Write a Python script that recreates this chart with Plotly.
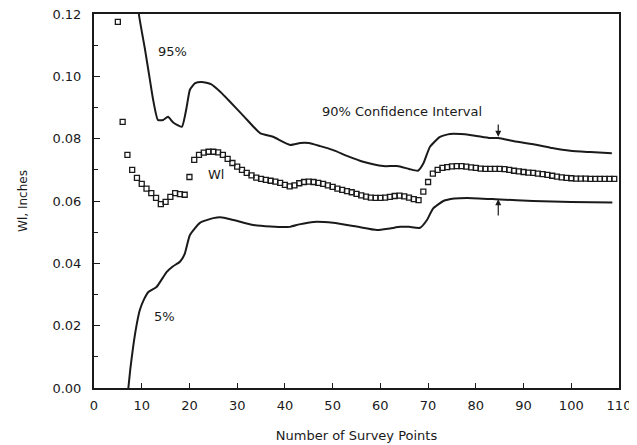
import plotly.graph_objects as go

# WI estimate at each survey point
wi_x = list(range(5, 110))
wi_y = [0.1175, 0.0854, 0.0748, 0.0700, 0.0674, 0.0655, 0.0640, 0.0625, 0.0610, 0.0590,
        0.0597, 0.0613, 0.0625, 0.0622, 0.0620, 0.0677, 0.0732, 0.0748, 0.0755, 0.0758,
        0.0758, 0.0756, 0.0748, 0.0735, 0.0722, 0.0710, 0.0700, 0.0690, 0.0682, 0.0675,
        0.0671, 0.0668, 0.0665, 0.0662, 0.0658, 0.0652, 0.0647, 0.0650, 0.0657, 0.0661,
        0.0662, 0.0661, 0.0658, 0.0655, 0.0650, 0.0645, 0.0640, 0.0636, 0.0632, 0.0628,
        0.0623, 0.0618, 0.0614, 0.0611, 0.0610, 0.0610, 0.0611, 0.0613, 0.0616, 0.0617,
        0.0615, 0.0611, 0.0606, 0.0603, 0.0630, 0.0661, 0.0688, 0.0700, 0.0706, 0.0709,
        0.0711, 0.0712, 0.0712, 0.0710, 0.0708, 0.0706, 0.0704, 0.0703, 0.0703, 0.0703,
        0.0703, 0.0702, 0.0700, 0.0697, 0.0695, 0.0693, 0.0691, 0.0690, 0.0688, 0.0686,
        0.0684, 0.0681, 0.0678, 0.0676, 0.0674, 0.0673, 0.0672, 0.0672, 0.0672, 0.0671,
        0.0671, 0.0671, 0.0671, 0.0671, 0.0671]

# 95% bound
up_x = [9.0, 9.4, 10.7, 11.7, 12.4, 13.4, 14.5, 15.5, 16.6, 18.4, 19.4, 20.1, 21.2, 22.6,
        24.5, 26.5, 28.1, 31.5, 34.8, 37.5, 41.1, 43.2, 45.0, 47.4, 50.0, 53.0, 56.4, 60.6,
        63.5, 66.0, 67.9, 69.0, 70.4, 72.5, 74.6, 78.8, 83.0, 84.7, 88.0, 92.9, 96.0, 99.8,
        104.0, 108.5]
up_y = [0.1300, 0.1200, 0.1085, 0.0990, 0.0924, 0.0860, 0.0860, 0.0870, 0.0852, 0.0838,
        0.0900, 0.0957, 0.0978, 0.0982, 0.0975, 0.0950, 0.0925, 0.0870, 0.0818, 0.0806,
        0.0780, 0.0786, 0.0786, 0.0776, 0.0764, 0.0745, 0.0726, 0.0712, 0.0712, 0.0703,
        0.0697, 0.0720, 0.0774, 0.0806, 0.0815, 0.0812, 0.0802, 0.0802, 0.0792, 0.0780,
        0.0770, 0.0761, 0.0757, 0.0753]

# 5% bound
lo_x = [7.2, 7.6, 8.2, 8.9, 9.6, 10.5, 11.4, 13.1, 15.2, 16.5, 18.0, 19.0, 20.1, 22.2,
        25.0, 26.5, 29.0, 33.4, 37.0, 41.0, 43.0, 46.0, 50.1, 55.0, 59.3, 62.0, 64.2, 66.0,
        68.3, 69.8, 71.0, 73.2, 75.5, 78.2, 85.1, 92.0, 100.0, 108.6]
lo_y = [0.0000, 0.0060, 0.0132, 0.0200, 0.0250, 0.0285, 0.0308, 0.0324, 0.0372, 0.0390,
        0.0405, 0.0430, 0.0491, 0.0530, 0.0545, 0.0548, 0.0540, 0.0523, 0.0518, 0.0517,
        0.0525, 0.0533, 0.0530, 0.0518, 0.0507, 0.0512, 0.0517, 0.0517, 0.0514, 0.0540,
        0.0575, 0.0600, 0.0608, 0.0610, 0.0605, 0.0600, 0.0597, 0.0595]

x_ticks = [0, 10, 20, 30, 40, 50, 60, 70, 80, 90, 100, 110]
y_ticks = [0.00, 0.02, 0.04, 0.06, 0.08, 0.10, 0.12]

INK = "#1a1a1a"
FONT = "DejaVu Sans"

fig = go.Figure()
fig.add_trace(go.Scatter(x=up_x, y=up_y, mode="lines",
                         line=dict(color=INK, width=2, shape="spline", smoothing=0.5),
                         showlegend=False))
fig.add_trace(go.Scatter(x=lo_x, y=lo_y, mode="lines",
                         line=dict(color=INK, width=2, shape="spline", smoothing=0.5),
                         showlegend=False))
fig.add_trace(go.Scatter(x=wi_x, y=wi_y, mode="markers",
                         marker=dict(symbol="square-open", size=5, color=INK,
                                     line=dict(width=1.3, color=INK)),
                         showlegend=False))

txt = dict(family=FONT, size=13, color=INK)
fig.add_annotation(x=16.5, y=0.108, text="95%", showarrow=False, font=txt)
fig.add_annotation(x=64.5, y=0.0886, text="90% Confidence Interval", showarrow=False, font=txt)
fig.add_annotation(x=25.5, y=0.0684, text="Wl", showarrow=False, font=txt)
fig.add_annotation(x=14.8, y=0.0228, text="5%", showarrow=False, font=txt)
# arrows marking the interval
fig.add_annotation(x=84.7, y=0.0806, ax=84.7, ay=0.0850, axref="x", ayref="y",
                   text="", showarrow=True, arrowhead=2, arrowsize=1, arrowwidth=1.2,
                   arrowcolor=INK)
fig.add_annotation(x=84.7, y=0.0606, ax=84.7, ay=0.0549, axref="x", ayref="y",
                   text="", showarrow=True, arrowhead=2, arrowsize=1, arrowwidth=1.2,
                   arrowcolor=INK)

fig.update_xaxes(range=[0, 110], tickvals=x_ticks, ticks="inside", ticklen=5,
                 tickwidth=1.2, tickcolor=INK, showline=True, linewidth=2,
                 linecolor=INK, mirror=True, showgrid=False, zeroline=False,
                 automargin=False, ticklabeloverflow="allow",
                 tickfont=dict(family=FONT, size=13, color=INK),
                 ticklabelstandoff=4,
                 title=dict(text="Number of Survey Points",
                            font=dict(family=FONT, size=13, color=INK), standoff=19))
fig.update_yaxes(range=[0, 0.12], tickvals=y_ticks, tickformat=".2f", ticks="inside",
                 ticklen=6, tickwidth=1.2, tickcolor=INK, showline=True, linewidth=2,
                 linecolor=INK, mirror=True, showgrid=False, zeroline=False,
                 automargin=False, ticklabeloverflow="allow",
                 minor=dict(tickvals=[0.01, 0.03, 0.05, 0.07, 0.09, 0.11], ticks="inside",
                            ticklen=4, tickcolor=INK, tickwidth=1.2),
                 tickfont=dict(family=FONT, size=13, color=INK),
                 ticklabelstandoff=8,
                 title=dict(text="Wl, Inches",
                            font=dict(family=FONT, size=12, color=INK), standoff=22))

# margins offset to compensate the page's default 8px body margin
fig.update_layout(width=637, height=445, paper_bgcolor="white", plot_bgcolor="white",
                  margin=dict(l=86, r=26, t=6, b=65))

fig.write_html("out.html")
